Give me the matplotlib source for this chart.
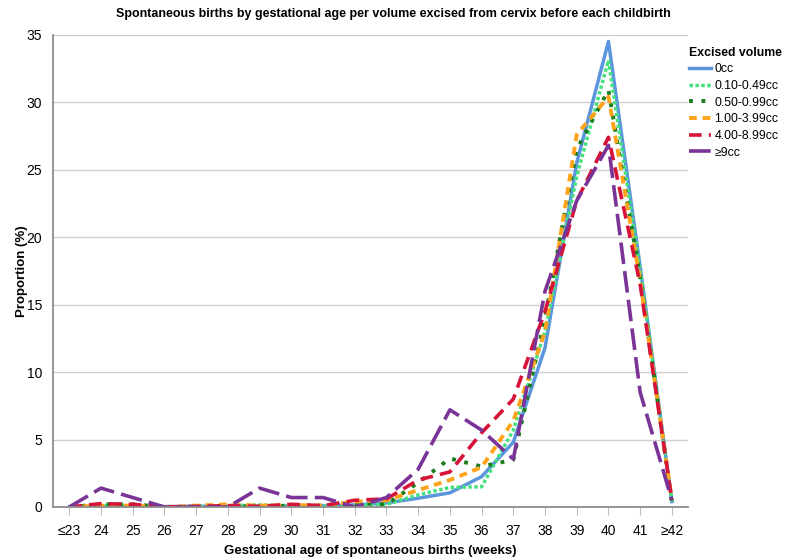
import matplotlib.pyplot as plt
import numpy as np

plt.rcParams['font.family'] = ['Liberation Sans', 'DejaVu Sans']

weeks = ["≤23", "24", "25", "26", "27", "28", "29", "30", "31", "32",
         "33", "34", "35", "36", "37", "38", "39", "40", "41", "≥42"]

vol_0 = [0, 0.05, 0.05, 0.03, 0.05, 0.05, 0.05, 0.08, 0.1, 0.15,
         0.3, 0.65, 1.05, 2.25, 4.8, 11.8, 25.5, 34.5, 17.8, 0.4]
vol_010 = [0, 0.1, 0.1, 0, 0.05, 0.1, 0.15, 0.1, 0.05, 0.1,
           0.2, 0.9, 1.45, 1.5, 5.7, 13.0, 24.5, 33.1, 17.5, 0.4]
vol_050 = [0, 0.2, 0.2, 0, 0, 0.1, 0, 0.1, 0.1, 0.3,
           0.2, 1.8, 3.6, 3.0, 3.5, 14.0, 26.5, 30.9, 17.0, 0.3]
vol_100 = [0, 0.1, 0.1, 0, 0.1, 0.2, 0.1, 0.15, 0.1, 0.4,
           0.5, 1.25, 2.0, 2.95, 6.4, 13.0, 27.6, 30.4, 16.8, 0.5]
vol_400 = [0, 0.25, 0.2, 0, 0.05, 0.1, 0.05, 0.2, 0.1, 0.5,
           0.6, 2.0, 2.6, 5.5, 8.0, 14.5, 22.7, 27.4, 16.5, 0.5]
vol_9 = [0, 1.4, 0.7, 0, 0, 0, 1.4, 0.7, 0.7, 0,
         0.7, 2.8, 7.2, 5.7, 3.55, 16.0, 22.7, 26.8, 8.5, 0.5]

labels = ["0cc", "0.10-0.49cc", "0.50-0.99cc", "1.00-3.99cc", "4.00-8.99cc", "≥9cc"]
series = [vol_0, vol_010, vol_050, vol_100, vol_400, vol_9]
colors = ["#5a95de", "#44e27e", "#1d7d1d", "#ffa31a", "#d8133a", "#7a3396"]
styles = ["-", (0, (1, 0.7)), (0, (1, 2.2)), (0, (2, 1.5)), (0, (3.5, 2)), (0, (6, 2))]
widths = [2.5, 2.5, 2.8, 2.8, 2.6, 2.6]

fig = plt.figure(figsize=(7.86, 5.58), dpi=100)
ax = fig.add_axes([0.068, 0.0914, 0.807, 0.8464])

x = np.arange(len(weeks))
for vals, lab, c, ls, lw in zip(series, labels, colors, styles, widths):
    ax.plot(x, vals, color=c, linestyle=ls, linewidth=lw, label=lab)

ax.set_xlim(-0.5, len(weeks) - 0.5)
ax.set_ylim(0, 35)
ax.set_yticks(np.arange(0, 36, 5))
ax.set_xticks(x)
ax.set_xticklabels(weeks)
ax.yaxis.grid(True, color="#cfcfcf", linewidth=1)
ax.set_axisbelow(True)

for s in ["top", "right"]:
    ax.spines[s].set_visible(False)
for s in ["left", "bottom"]:
    ax.spines[s].set_color("#8c8c8c")
    ax.spines[s].set_linewidth(1.3)
ax.tick_params(axis="y", length=0, labelsize=10, pad=8)
ax.tick_params(axis="x", length=6, color="#bdbdbd", labelsize=10, pad=6, direction="out")

ax.set_xlabel("Gestational age of spontaneous births (weeks)", fontsize=9.5,
              fontweight="bold", labelpad=5)
ax.set_ylabel("Proportion (%)", fontsize=9.5, fontweight="bold", labelpad=-1)
fig.suptitle("Spontaneous births by gestational age per volume excised from cervix before each childbirth",
             fontsize=9, fontweight="bold", y=0.985)

leg = ax.legend(loc="upper left", bbox_to_anchor=(0.99, 0.99), frameon=False,
                title="Excised volume", fontsize=8.8, handlelength=1.8,
                handletextpad=0.3, labelspacing=0.38, borderaxespad=0.2)
leg.get_title().set_fontweight("bold")
leg.get_title().set_fontsize(8.8)
leg._legend_box.align = "left"

fig.savefig("out.png", dpi=100)
